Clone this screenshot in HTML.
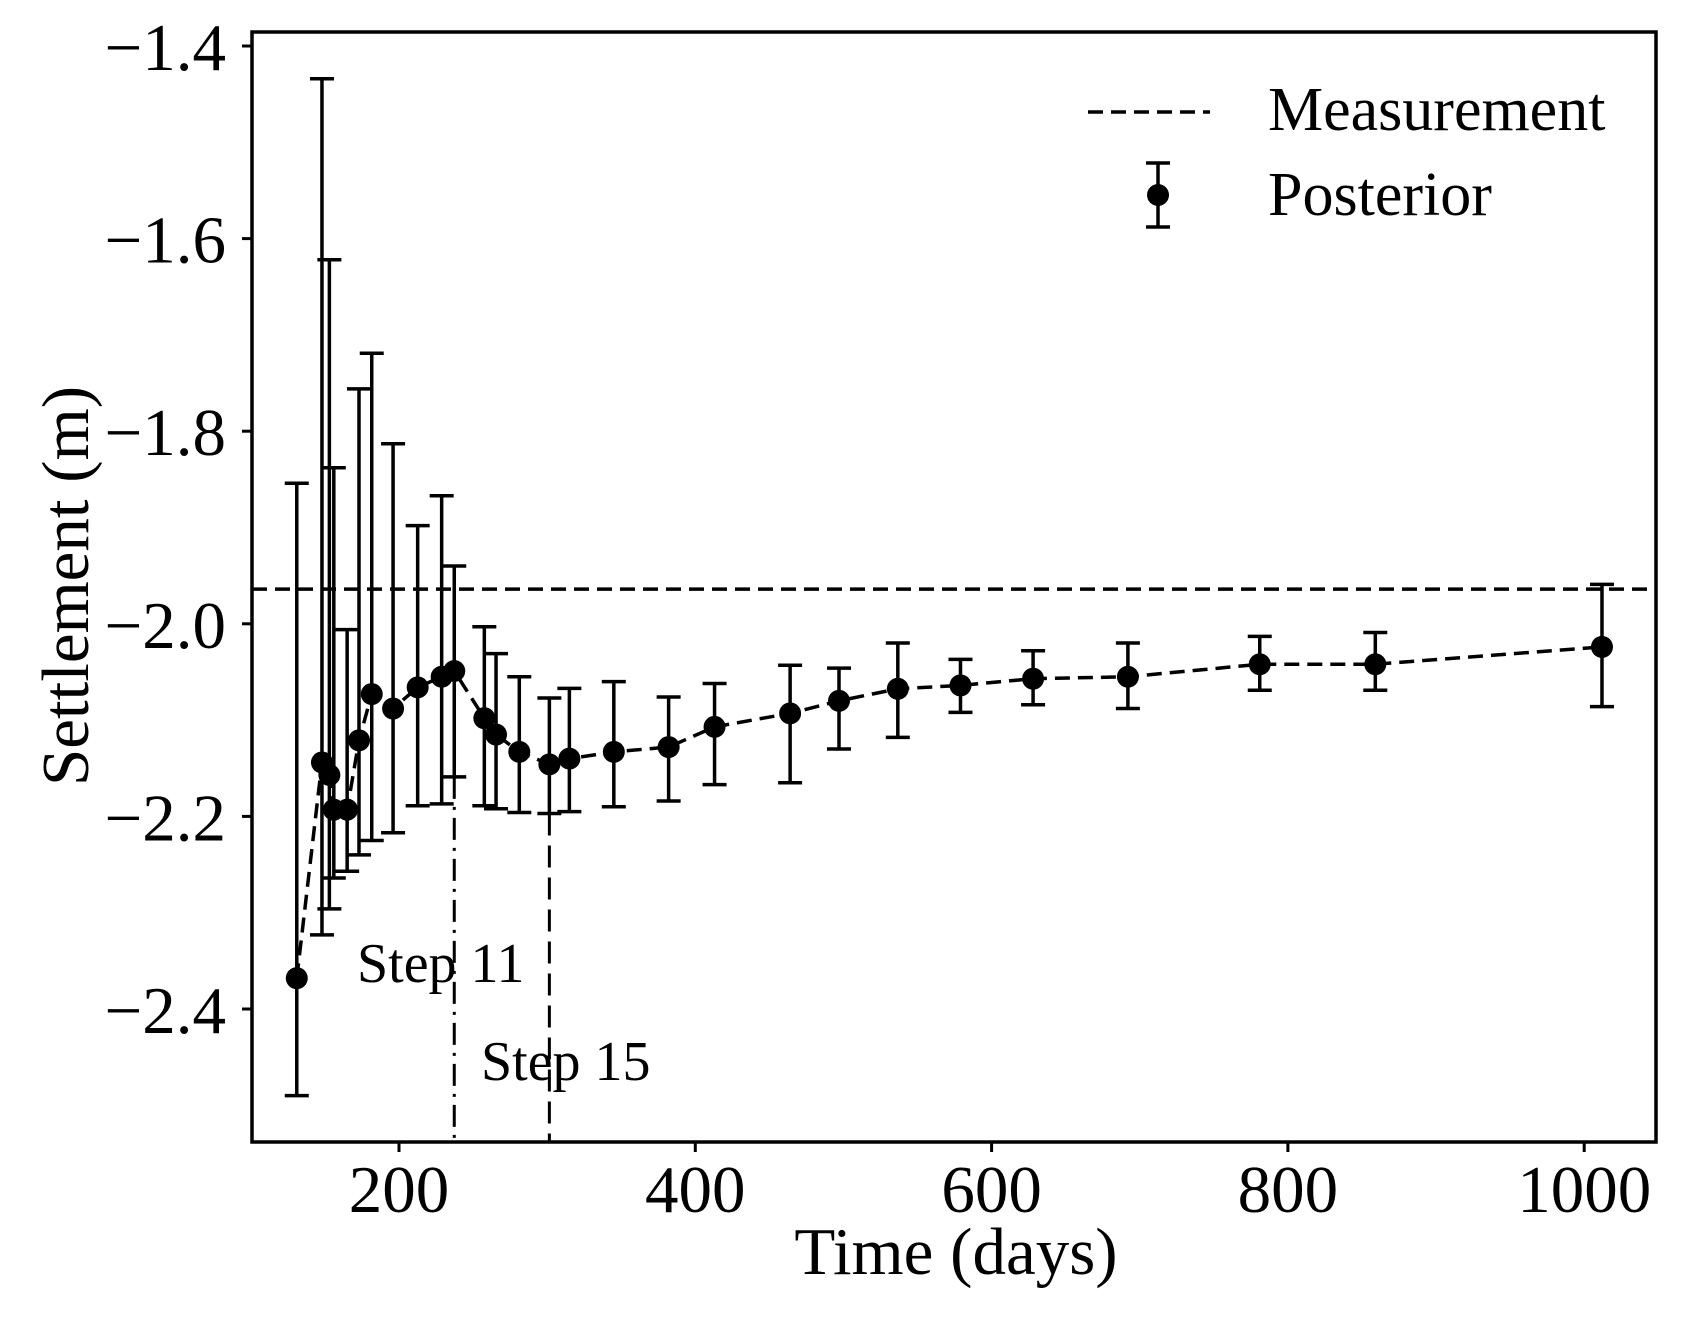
<!DOCTYPE html>
<html><head><meta charset="utf-8"><style>
html,body{margin:0;padding:0;background:#fff;}
svg{display:block;font-family:"Liberation Serif",serif;}
</style></head><body>
<svg id="chart" width="1690" height="1318" viewBox="0 0 1690 1318"></svg>
<script>
const times=[131,148,153,156,165,173,181.6,196,212.6,228.8,237.3,257.6,265.5,281.2,301.5,315,345,382,413,464,497,536.7,579,628,692,781,859,1012];
const means=[-2.368,-2.144,-2.157,-2.193,-2.193,-2.121,-2.073,-2.088,-2.066,-2.055,-2.049,-2.098,-2.115,-2.133,-2.146,-2.14,-2.133,-2.128,-2.107,-2.093,-2.08,-2.0675,-2.064,-2.057,-2.055,-2.042,-2.042,-2.024];
const uppers=[-1.854,-1.434,-1.622,-1.838,-2.006,-1.756,-1.719,-1.813,-1.898,-1.867,-1.94,-2.003,-2.031,-2.055,-2.077,-2.067,-2.06,-2.076,-2.062,-2.043,-2.046,-2.02,-2.037,-2.028,-2.02,-2.013,-2.009,-1.959];
const lowers=[-2.49,-2.323,-2.296,-2.264,-2.257,-2.24,-2.225,-2.217,-2.189,-2.187,-2.159,-2.189,-2.192,-2.196,-2.197,-2.195,-2.19,-2.184,-2.167,-2.165,-2.13,-2.118,-2.092,-2.084,-2.088,-2.069,-2.069,-2.086];
const measurement=-1.964;
const stepTimes=[237.3,301.5];
const stepLabels=["Step 11","Step 15"];
const xTicks=[200,400,600,800,1000];
const yTicks=[-1.4,-1.6,-1.8,-2.0,-2.2,-2.4];

const L=252,R=1656,T=32,B=1142;
const X=t=>399+(t-200)*1.4815;
const Y=v=>46+(-1.4-v)/0.2*192.6;
const svg=document.getElementById('chart');
const NS='http://www.w3.org/2000/svg';
function mk(tag,attrs,parent){const e=document.createElementNS(NS,tag);for(const k in attrs)e.setAttribute(k,attrs[k]);(parent||svg).appendChild(e);return e;}

let m=mk('line',{x1:L,x2:R,y1:Y(measurement),y2:Y(measurement),stroke:'#000','stroke-width':3.5,'stroke-dasharray':'15 8'});



stepTimes.forEach((s,i)=>{
  const idx=times.indexOf(s);
  const l=mk('line',{x1:X(s),x2:X(s),y1:Y(lowers[idx]),y2:B,stroke:'#000','stroke-width':3,'stroke-dasharray':i===0?'22 8 3 8':'22 10'});
  
  
});
const stepPos=[[357,982],[481,1080]];
stepLabels.forEach((s,i)=>{
  const t=mk('text',{x:stepPos[i][0],y:stepPos[i][1],'font-size':56});
  t.textContent=s;
  
  
});

let d='';times.forEach((t,i)=>{d+=(i?'L':'M')+X(t)+' '+Y(means[i]);});
const pl=mk('path',{d:d,fill:'none',stroke:'#000','stroke-width':3.5,'stroke-dasharray':'15 8'});



times.forEach((t,i)=>{
  const g=mk('g',{stroke:'#000','stroke-width':3.5});
  
  
  const x=X(t),yu=Y(uppers[i]),yl=Y(lowers[i]);
  mk('line',{x1:x,x2:x,y1:yu,y2:yl},g);
  mk('line',{x1:x-12,x2:x+12,y1:yu,y2:yu},g);
  mk('line',{x1:x-12,x2:x+12,y1:yl,y2:yl},g);
  const c=mk('circle',{cx:x,cy:Y(means[i]),r:11,fill:'#000'});
  
  
});

const f=mk('rect',{x:L,y:T,width:R-L,height:B-T,fill:'none',stroke:'#000','stroke-width':3.5});



xTicks.forEach(v=>{
  const tk=mk('line',{x1:X(v),x2:X(v),y1:B,y2:B+10,stroke:'#000','stroke-width':3});
  
  
  const tx=mk('text',{x:X(v),y:1212,'font-size':67,'text-anchor':'middle'});
  tx.textContent=v;
  
  
});
yTicks.forEach(v=>{
  const tk=mk('line',{x1:L-10,x2:L,y1:Y(v),y2:Y(v),stroke:'#000','stroke-width':3});
  
  
  const tx=mk('text',{x:226,y:Y(v)+24,'font-size':67,'text-anchor':'end'});
  tx.textContent='\u2212'+Math.abs(v).toFixed(1);
  
  
});

const xt=mk('text',{x:956,y:1274,'font-size':67,'text-anchor':'middle'});
xt.textContent='Time (days)';


const yt=mk('text',{x:0,y:0,'font-size':67,'text-anchor':'middle',transform:'translate(88,586) rotate(-90)'});
yt.textContent='Settlement (m)';



const lg=mk('g',{});


const ld=mk('line',{x1:1088,x2:1210,y1:112,y2:112,stroke:'#000','stroke-width':3.5,'stroke-dasharray':'15 8'},lg);


const lt1=mk('text',{x:1268,y:130,'font-size':62},lg);
lt1.textContent='Measurement';


const lp=mk('g',{stroke:'#000','stroke-width':3.5},lg);


mk('line',{x1:1158,x2:1158,y1:163,y2:227},lp);
mk('line',{x1:1146,x2:1170,y1:163,y2:163},lp);
mk('line',{x1:1146,x2:1170,y1:227,y2:227},lp);
mk('circle',{cx:1158,cy:195,r:11,fill:'#000',stroke:'none'},lp);
const lt2=mk('text',{x:1268,y:215,'font-size':62},lg);
lt2.textContent='Posterior';


</script>
</body></html>
